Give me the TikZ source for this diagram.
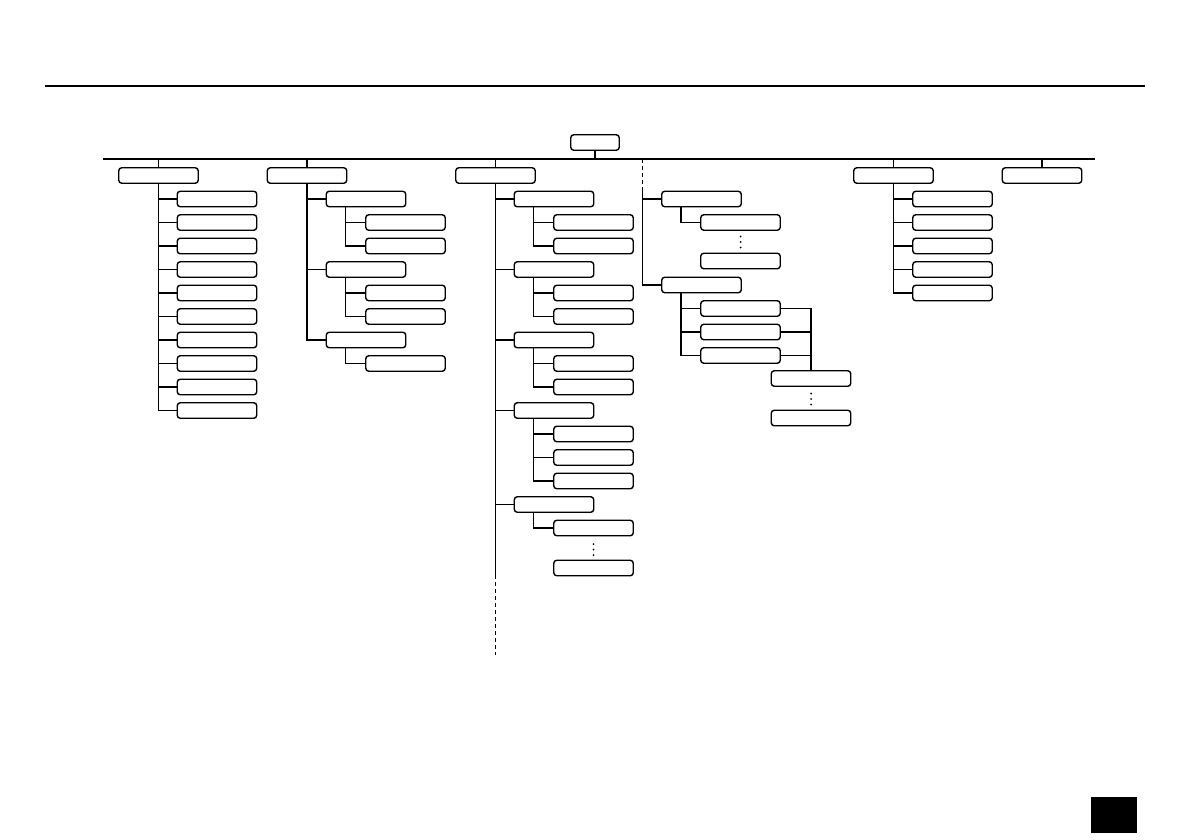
\documentclass[tikz,border=0pt]{standalone}
\begin{document}
\begin{tikzpicture}[x=1pt,y=-1pt,
  bx/.style={draw, rounded corners=3pt, minimum width=79.5pt, minimum height=15.5pt, inner sep=0pt, line width=1.4pt},
  rootbx/.style={bx, minimum width=48.5pt},
  conn/.style={line width=1.2pt},
  busline/.style={line width=2pt},
  dashtrunk/.style={line width=1.1pt, dash pattern=on 4pt off 3pt},
  dotmark/.style={fill=black}
]
\useasboundingbox (0,0) rectangle (1191,839);
% header rule and page mark
\coordinate (ruleL) at (45,86);
\coordinate (ruleR) at (1145,86);
\draw[busline] (ruleL) -- (ruleR);
\fill (1091,797) rectangle (1137,833);

% root and bus
\node[rootbx] (root) at (595,142.5) {};
\coordinate (busL) at (103,159);
\coordinate (busR) at (1095,159);
\draw[busline] (busL) -- (busR);
\draw[conn] (root.south) -- (root.south |- busL);

% level 1
\node[bx] (A) at (158.5,175.5) {};
\node[bx] (B) at (307,175.5) {};
\node[bx] (C) at (495.5,175.5) {};
\node[bx] (E) at (893.5,175.5) {};
\node[bx] (F) at (1042,175.5) {};
\foreach \n in {A,B,C,E} \draw[conn] (\n.north) -- (\n.north |- busL);
\draw[line width=1.8pt] (F.north) -- (F.north |- busL);

% column 1
\foreach \k in {0,...,9} {
  \node[bx] (A\k) at (217,199+23.5*\k) {};
  \draw[conn] (A.south) |- (A\k.west);
}

% column 2
\node[bx] (B1) at (366,199) {};
\node[bx] (B2) at (366,269.5) {};
\node[bx] (B3) at (366,340) {};
\foreach \n in {B1,B2,B3} \draw[conn] (B.south) |- (\n.west);
\node[bx] (B1a) at (405.5,222.5) {};
\node[bx] (B1b) at (405.5,246) {};
\node[bx] (B2a) at (405.5,293) {};
\node[bx] (B2b) at (405.5,316.5) {};
\node[bx] (B3a) at (405.5,363.5) {};
\draw[conn] ([xshift=20pt]B1.south west) |- (B1a.west);
\draw[conn] ([xshift=20pt]B1.south west) |- (B1b.west);
\draw[conn] ([xshift=20pt]B2.south west) |- (B2a.west);
\draw[conn] ([xshift=20pt]B2.south west) |- (B2b.west);
\draw[conn] ([xshift=20pt]B3.south west) |- (B3a.west);

% column 3
\node[bx] (C1) at (554,199) {};
\node[bx] (C2) at (554,269.5) {};
\node[bx] (C3) at (554,340) {};
\node[bx] (C4) at (554,410.5) {};
\node[bx] (C5) at (554,504.5) {};
\coordinate (Cend) at (495.5,575);
\coordinate (Cdash) at (495.5,655);
\draw[conn] (C.south) -- (Cend);
\draw[dashtrunk] (Cend) -- (Cdash);
\foreach \n in {C1,C2,C3,C4,C5} \draw[conn] (C.south |- \n.west) -- (\n.west);
\node[bx] (C1a) at (593.5,222.5) {};
\node[bx] (C1b) at (593.5,246) {};
\node[bx] (C2a) at (593.5,293) {};
\node[bx] (C2b) at (593.5,316.5) {};
\node[bx] (C3a) at (593.5,363.5) {};
\node[bx] (C3b) at (593.5,387) {};
\node[bx] (C4a) at (593.5,434) {};
\node[bx] (C4b) at (593.5,457.5) {};
\node[bx] (C4c) at (593.5,481) {};
\node[bx] (C5a) at (593.5,528) {};
\node[bx] (C5b) at (593.5,568) {};
\foreach \p/\c in {C1/C1a,C1/C1b,C2/C2a,C2/C2b,C3/C3a,C3/C3b,C4/C4a,C4/C4b,C4/C4c,C5/C5a}
  \draw[conn] ([xshift=20pt]\p.south west) |- (\c.west);
\foreach \d in {0,1,2} \fill[dotmark] (593.5,544+5.5*\d) circle (1pt);

% column 4
\coordinate (Dtop) at (642.5,159);
\coordinate (Dmid) at (642.5,189);
\node[bx] (D1) at (701.5,199) {};
\node[bx] (D2) at (701.5,285) {};
\draw[dashtrunk] (Dtop) -- (Dmid);
\draw[conn] (Dmid) |- (D1.west);
\draw[conn] (Dmid) |- (D2.west);
\node[bx] (D1a) at (740.5,222.5) {};
\node[bx] (D1b) at (740.5,261) {};
\draw[conn] ([xshift=20pt]D1.south west) |- (D1a.west);
\foreach \d in {0,1,2} \fill[dotmark] (740.5,236.5+5.5*\d) circle (1pt);
\node[bx] (D2a) at (740.5,308.5) {};
\node[bx] (D2b) at (740.5,332) {};
\node[bx] (D2c) at (740.5,355.5) {};
\foreach \c in {D2a,D2b,D2c} \draw[conn] ([xshift=20pt]D2.south west) |- (\c.west);
\node[bx] (D3) at (811,378.5) {};
\node[bx] (D4) at (811,418) {};
\foreach \c in {D2a,D2b,D2c} \draw[conn] (\c.east) -| (D3.north);
\foreach \d in {0,1,2} \fill[dotmark] (811,393.5+5.5*\d) circle (1pt);

% column 5
\foreach \k in {0,...,4} {
  \node[bx] (E\k) at (952.5,199+23.5*\k) {};
  \draw[conn] (E.south) |- (E\k.west);
}
\end{tikzpicture}
\end{document}
